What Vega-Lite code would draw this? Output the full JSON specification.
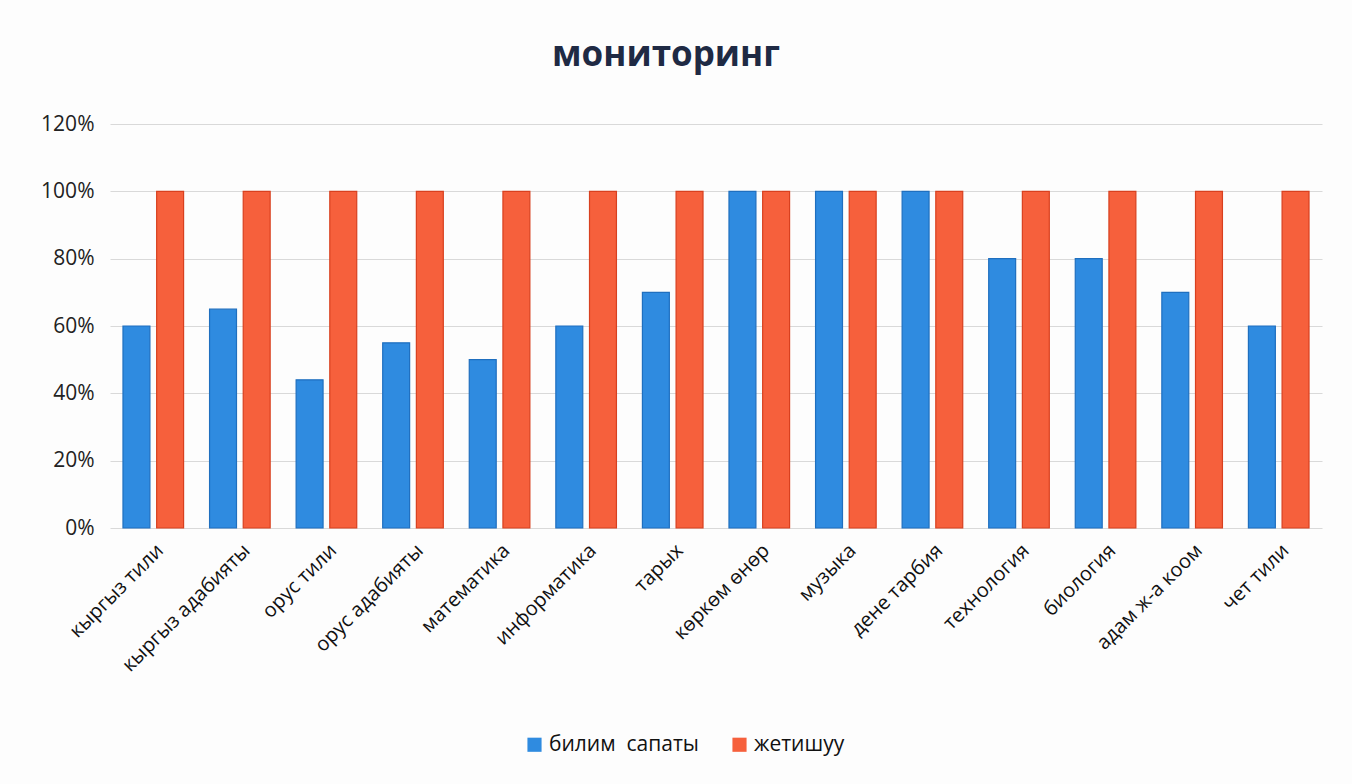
{
  "$schema": "https://vega.github.io/schema/vega-lite/v6.json",
  "autosize": {"type": "none"},
  "padding": {"left": 110, "top": 124, "right": 30, "bottom": 256},
  "width": 1212,
  "height": 404,
  "background": "#fdfdfd",
  "config": {"view": {"stroke": null}},
  "title": {
    "text": "мониторинг",
    "fontSize": 35,
    "font": "Open Sans",
    "fontWeight": "bold",
    "color": "#1f2a44",
    "anchor": "middle",
    "dx": -50,
    "offset": 40
  },
  "data": {
    "values": [
      {"subject": "кыргыз тили", "series": "билим  сапаты", "value": 0.60},
      {"subject": "кыргыз тили", "series": "жетишуу", "value": 1.00},
      {"subject": "кыргыз адабияты", "series": "билим  сапаты", "value": 0.65},
      {"subject": "кыргыз адабияты", "series": "жетишуу", "value": 1.00},
      {"subject": "орус тили", "series": "билим  сапаты", "value": 0.44},
      {"subject": "орус тили", "series": "жетишуу", "value": 1.00},
      {"subject": "орус адабияты", "series": "билим  сапаты", "value": 0.55},
      {"subject": "орус адабияты", "series": "жетишуу", "value": 1.00},
      {"subject": "математика", "series": "билим  сапаты", "value": 0.50},
      {"subject": "математика", "series": "жетишуу", "value": 1.00},
      {"subject": "информатика", "series": "билим  сапаты", "value": 0.60},
      {"subject": "информатика", "series": "жетишуу", "value": 1.00},
      {"subject": "тарых", "series": "билим  сапаты", "value": 0.70},
      {"subject": "тарых", "series": "жетишуу", "value": 1.00},
      {"subject": "көркөм өнөр", "series": "билим  сапаты", "value": 1.00},
      {"subject": "көркөм өнөр", "series": "жетишуу", "value": 1.00},
      {"subject": "музыка", "series": "билим  сапаты", "value": 1.00},
      {"subject": "музыка", "series": "жетишуу", "value": 1.00},
      {"subject": "дене тарбия", "series": "билим  сапаты", "value": 1.00},
      {"subject": "дене тарбия", "series": "жетишуу", "value": 1.00},
      {"subject": "технология", "series": "билим  сапаты", "value": 0.80},
      {"subject": "технология", "series": "жетишуу", "value": 1.00},
      {"subject": "биология", "series": "билим  сапаты", "value": 0.80},
      {"subject": "биология", "series": "жетишуу", "value": 1.00},
      {"subject": "адам ж-а коом", "series": "билим  сапаты", "value": 0.70},
      {"subject": "адам ж-а коом", "series": "жетишуу", "value": 1.00},
      {"subject": "чет тили", "series": "билим  сапаты", "value": 0.60},
      {"subject": "чет тили", "series": "жетишуу", "value": 1.00}
    ]
  },
  "mark": {"type": "bar", "strokeWidth": 1.2},
  "encoding": {
    "x": {
      "field": "subject",
      "type": "nominal",
      "sort": null,
      "scale": {"paddingInner": 0.3, "paddingOuter": 0.15},
      "axis": {
        "title": null,
        "labelAngle": -45,
        "labelFontSize": 20,
        "labelFont": "Open Sans",
        "labelColor": "#111",
        "labelPadding": 12,
        "ticks": false,
        "domain": false
      }
    },
    "xOffset": {"field": "series", "type": "nominal", "scale": {"paddingInner": 0.2}},
    "y": {
      "field": "value",
      "type": "quantitative",
      "scale": {"domain": [0, 1.2], "nice": false},
      "axis": {
        "title": null,
        "format": ".0%",
        "values": [0, 0.2, 0.4, 0.6, 0.8, 1.0, 1.2],
        "labelOverlap": false,
        "labelFontSize": 21,
        "labelFont": "Open Sans",
        "labelColor": "#222",
        "labelPadding": 16,
        "ticks": false,
        "domain": false,
        "gridColor": "#d9d9d9",
        "gridWidth": 1.2
      }
    },
    "color": {
      "field": "series",
      "type": "nominal",
      "scale": {"domain": ["билим  сапаты", "жетишуу"], "range": ["#2f8be0", "#f6603c"]},
      "legend": {
        "title": null,
        "orient": "none",
        "direction": "horizontal",
        "legendX": 414,
        "legendY": 610,
        "symbolType": "square",
        "symbolSize": 200,
        "symbolStrokeWidth": 0,
        "labelFontSize": 21,
        "labelFont": "Open Sans",
        "labelColor": "#111",
        "labelExpr": "replace(datum.label, '  ', ' \u00a0')",
        "columnPadding": 30,
        "labelLimit": 300
      }
    },
    "stroke": {
      "field": "series",
      "type": "nominal",
      "scale": {"domain": ["билим  сапаты", "жетишуу"], "range": ["#1f6fbf", "#d8401f"]},
      "legend": null
    }
  }
}
